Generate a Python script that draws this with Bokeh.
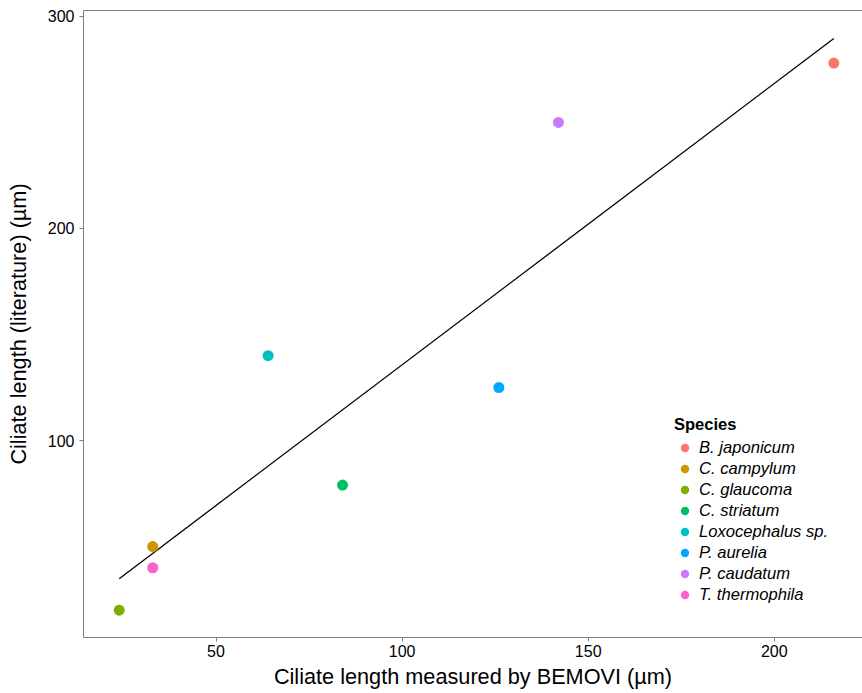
import numpy as np
from bokeh.plotting import figure
from bokeh.models import FixedTicker, Range1d, Legend, LegendItem, LinearAxis
from bokeh.embed import file_html
from bokeh.resources import INLINE

species = ["B. japonicum", "C. campylum", "C. glaucoma", "C. striatum",
           "Loxocephalus sp.", "P. aurelia", "P. caudatum", "T. thermophila"]
bemovi = [216, 33, 24, 84, 64, 126, 142, 33]
literature = [278, 50, 20, 79, 140, 125, 250, 40]
colors = ["#F8766D", "#CD9600", "#7CAE00", "#00BE67",
          "#00BFC4", "#00A9FF", "#C77CFF", "#FF61CC"]
x_ticks = [50, 100, 150, 200]
y_ticks = [100, 200, 300]

FONT = "Liberation Sans"
GREY = "#7f7f7f"

p = figure(width=862, height=693, output_backend="svg", toolbar_location=None,
           x_range=Range1d(14.4, 223.7), y_range=Range1d(7.1, 302.8),
           min_border_left=83, min_border_right=0, min_border_top=10,
           min_border_bottom=56)
p.xgrid.visible = False
p.ygrid.visible = False
p.outline_line_color = None
p.background_fill_color = "white"
p.border_fill_color = "white"

# regression line (least-squares fit of the data)
slope, intercept = np.polyfit(bemovi, literature, 1)
xs = [min(bemovi), max(bemovi)]
ys = [slope * v + intercept for v in xs]
p.line(xs, ys, line_color="black", line_width=1.3)

items = []
for s, xv, yv, c in zip(species, bemovi, literature, colors):
    r = p.scatter([xv], [yv], size=11, fill_color=c, line_color=None, marker="circle")
    items.append(LegendItem(label=s, renderers=[r]))

legend = Legend(items=items, location=(591, 32), title="Species",
                title_text_font=FONT, title_text_font_style="bold",
                title_text_font_size="16.5px", title_standoff=3,
                title_text_color="black",
                label_text_font=FONT, label_text_font_style="italic",
                label_text_font_size="16.6px", label_text_color="black",
                label_height=21, glyph_height=21,
                glyph_width=21, label_standoff=4, spacing=0, padding=0,
                margin=0, border_line_color=None, background_fill_alpha=0)
p.add_layout(legend)

for ax in (p.xaxis[0], p.yaxis[0]):
    ax.axis_line_color = GREY
    ax.axis_line_width = 1
    ax.major_tick_line_color = GREY
    ax.major_tick_out = 4
    ax.major_tick_in = 0
    ax.minor_tick_line_color = None
    ax.major_label_text_font = FONT
    ax.major_label_text_font_size = "16px"
    ax.major_label_text_color = "black"
    ax.axis_label_text_font = FONT
    ax.axis_label_text_font_size = "21.7px"
    ax.axis_label_text_font_style = "normal"
    ax.axis_label_text_color = "black"

p.xaxis.ticker = FixedTicker(ticks=x_ticks)
p.yaxis.ticker = FixedTicker(ticks=y_ticks)
p.xaxis.axis_label = "Ciliate length measured by BEMOVI (µm)"
p.yaxis.axis_label = "Ciliate length (literature) (µm)"
p.xaxis.major_label_standoff = 3
p.yaxis.major_label_standoff = 5
p.xaxis.axis_label_standoff = 4
p.yaxis.axis_label_standoff = 14

# top border line (panel border along the top), no ticks or labels
top = LinearAxis(ticker=FixedTicker(ticks=[]), axis_line_color=GREY,
                 axis_line_width=1, major_tick_line_color=None,
                 minor_tick_line_color=None, major_label_standoff=0,
                 major_tick_out=0, major_tick_in=0)
p.add_layout(top, "above")

open("out.html", "w").write(file_html(p, INLINE))
